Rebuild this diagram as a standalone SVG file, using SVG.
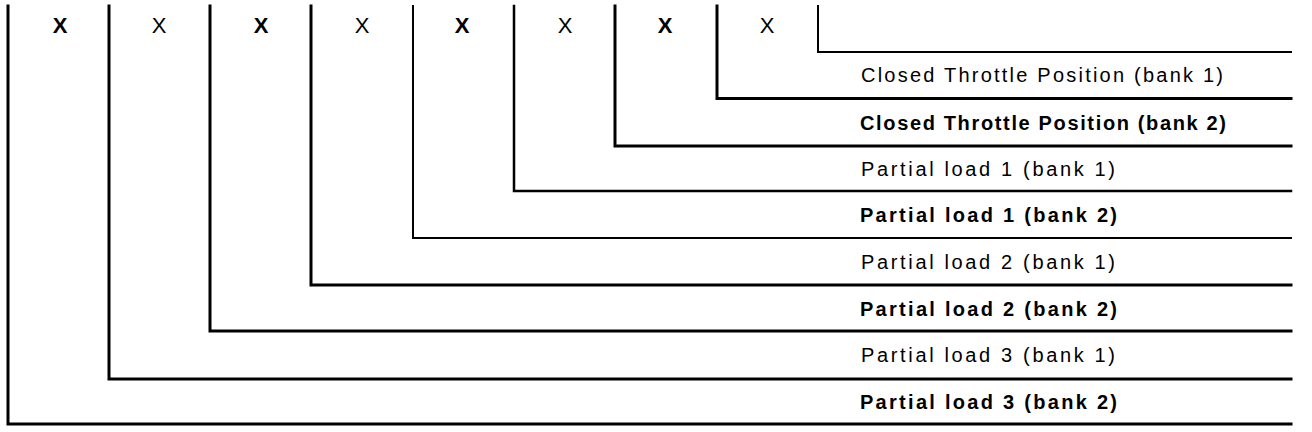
<svg xmlns="http://www.w3.org/2000/svg" width="1312" height="432" viewBox="0 0 1312 432">
<style>
.ln{fill:none;stroke:#000;stroke-linejoin:miter;stroke-linecap:square}
.t{font-family:"Liberation Sans",Arial,sans-serif;font-size:20px;fill:#000}
.b{font-weight:bold}
.x{font-family:"Liberation Sans",Arial,sans-serif;font-size:22px;fill:#000;text-anchor:middle}
</style>
<rect width="1312" height="432" fill="#fff"/>
<g id="connectors">
<path class="ln" stroke-width="2" d="M818 6V52H1291"/>
<path class="ln" stroke-width="3" d="M717 6V98.5H1291"/>
<path class="ln" stroke-width="3" d="M615 6V146H1291"/>
<path class="ln" stroke-width="2.5" d="M514 6V191H1291"/>
<path class="ln" stroke-width="2" d="M413 6V238H1291"/>
<path class="ln" stroke-width="3" d="M311 6V285H1291"/>
<path class="ln" stroke-width="3" d="M210 6V331H1291"/>
<path class="ln" stroke-width="3" d="M109 6V379H1291"/>
<path class="ln" stroke-width="3" d="M8 6V424H1291"/>
</g>
<g id="marks">
<text class="x b" x="60" y="33">X</text>
<text class="x" x="159" y="33">X</text>
<text class="x b" x="261" y="33">X</text>
<text class="x" x="362" y="33">X</text>
<text class="x b" x="462" y="33">X</text>
<text class="x" x="565" y="33">X</text>
<text class="x b" x="665" y="33">X</text>
<text class="x" x="767" y="33">X</text>
</g>
<g id="row1"><text class="t" x="861" y="82" textLength="362" lengthAdjust="spacing">Closed Throttle Position (bank 1)</text></g>
<g id="row2"><text class="t b" x="860" y="129.5" textLength="366" lengthAdjust="spacing">Closed Throttle Position (bank 2)</text></g>
<g id="row3"><text class="t" x="861" y="176" textLength="254" lengthAdjust="spacing">Partial load 1 (bank 1)</text></g>
<g id="row4"><text class="t b" x="860" y="222" textLength="257" lengthAdjust="spacing">Partial load 1 (bank 2)</text></g>
<g id="row5"><text class="t" x="861" y="269" textLength="254" lengthAdjust="spacing">Partial load 2 (bank 1)</text></g>
<g id="row6"><text class="t b" x="860" y="315.5" textLength="257" lengthAdjust="spacing">Partial load 2 (bank 2)</text></g>
<g id="row7"><text class="t" x="861" y="362" textLength="254" lengthAdjust="spacing">Partial load 3 (bank 1)</text></g>
<g id="row8"><text class="t b" x="860" y="409" textLength="257" lengthAdjust="spacing">Partial load 3 (bank 2)</text></g>
</svg>
